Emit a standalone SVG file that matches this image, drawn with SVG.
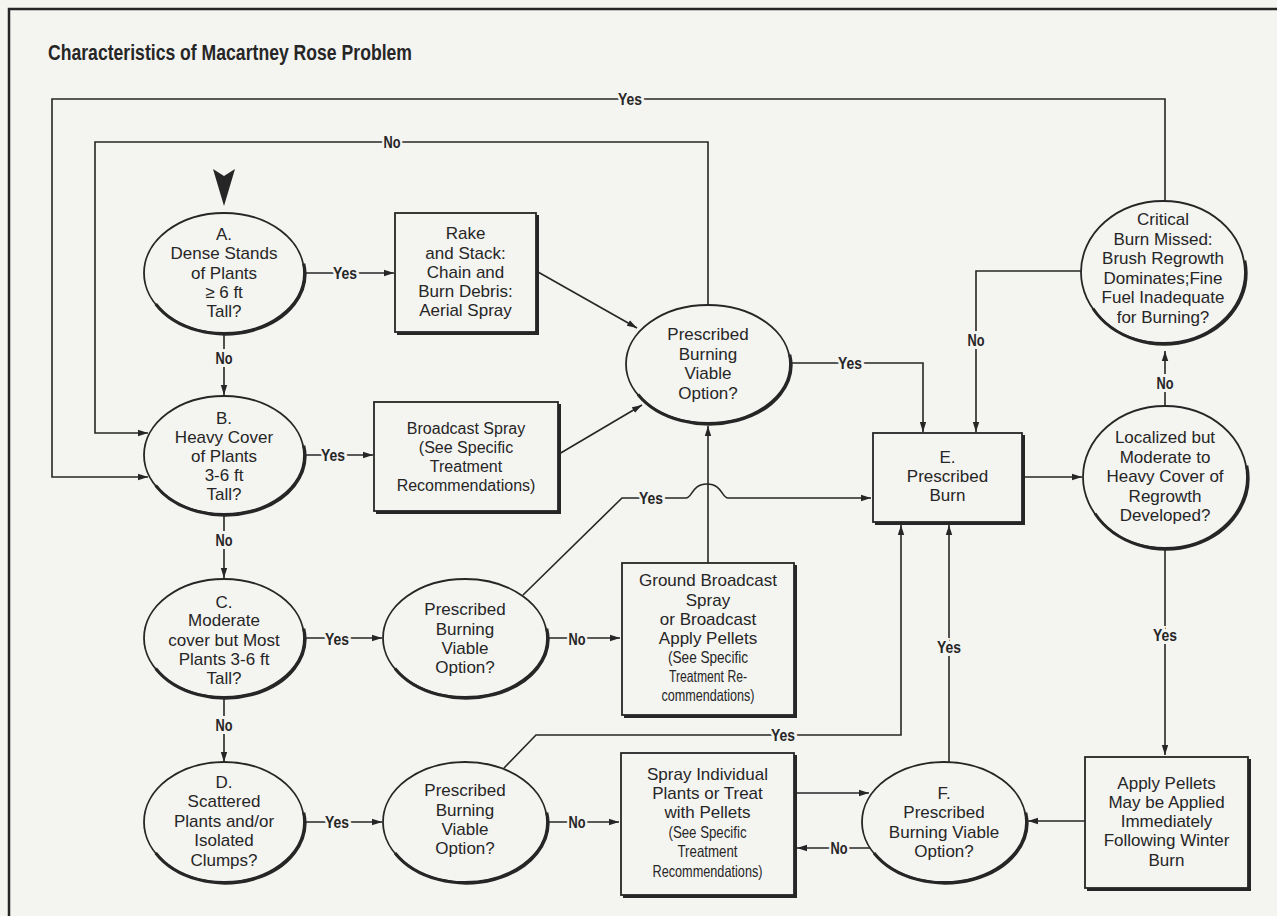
<svg xmlns="http://www.w3.org/2000/svg" width="1277" height="916" viewBox="0 0 1277 916">
<defs>
<style>
.ln{fill:none;stroke:#262626;stroke-width:1.6}
.nd{fill:#f4f4f1;stroke:#262626;stroke-width:1.8}
.sh{fill:none;stroke:#262626;stroke-width:3}
.t{font-family:"Liberation Sans",Arial,sans-serif;font-size:17px;fill:#262626;text-anchor:middle}
.s{font-size:16.5px}
.lb{font-family:"Liberation Sans",Arial,sans-serif;font-weight:bold;font-size:17px;fill:#262626;text-anchor:middle;stroke:#f4f4f1;stroke-width:6;paint-order:stroke}
</style>
<marker id="ah" markerWidth="10" markerHeight="8" refX="10" refY="4" orient="auto" markerUnits="userSpaceOnUse"><path d="M0,0.8 L10,4 L0,7.2 Z" fill="#262626"/></marker>
</defs>
<rect x="0" y="0" width="1277" height="916" fill="#f4f4f1"/>
<path d="M9,916 V9 H1277" fill="none" stroke="#262626" stroke-width="2.5"/>
<text x="48" y="60" font-family="'Liberation Sans',Arial,sans-serif" font-weight="bold" font-size="22" fill="#262626" textLength="364" lengthAdjust="spacingAndGlyphs">Characteristics of Macartney Rose Problem</text>
<path d="M213,169 L224,176 L235,169 L224,206 Z" fill="#262626"/>

<g id="connectors">
<path class="ln" marker-end="url(#ah)" d="M1165,201 V99 H52 V477 H148"/>
<path class="ln" marker-end="url(#ah)" d="M708,305 V142 H95 V433 H148"/>
<path class="ln" marker-end="url(#ah)" d="M304,273 H394"/>
<path class="ln" marker-end="url(#ah)" d="M538,272 L637,328"/>
<path class="ln" marker-end="url(#ah)" d="M224,333 V395"/>
<path class="ln" marker-end="url(#ah)" d="M304,455 H373"/>
<path class="ln" marker-end="url(#ah)" d="M559,454 L642,405"/>
<path class="ln" marker-end="url(#ah)" d="M224,514 V578"/>
<path class="ln" marker-end="url(#ah)" d="M224,697 V762"/>
<path class="ln" marker-end="url(#ah)" d="M304,638 H382"/>
<path class="ln" marker-end="url(#ah)" d="M547,638 H620"/>
<path class="ln" marker-end="url(#ah)" d="M304,822 H382"/>
<path class="ln" marker-end="url(#ah)" d="M547,822 H619"/>
<path class="ln" marker-end="url(#ah)" d="M708,563 V426"/>
<path class="ln" marker-end="url(#ah)" d="M790,363 H923 V432"/>
<path class="ln" marker-end="url(#ah)" d="M1082,271 H976 V432"/>
<path class="ln" marker-end="url(#ah)" d="M523,595 L622,498 H686 C692,498 692,484 707,484 C722,484 722,498 728,498 H871"/>
<path class="ln" marker-end="url(#ah)" d="M504,768 L536,735 H901 V525"/>
<path class="ln" marker-end="url(#ah)" d="M949,763 V525"/>
<path class="ln" marker-end="url(#ah)" d="M1022,477 H1082"/>
<path class="ln" marker-end="url(#ah)" d="M1165,406 V351"/>
<path class="ln" marker-end="url(#ah)" d="M1165,548 V755"/>
<path class="ln" marker-end="url(#ah)" d="M1085,821 H1028"/>
<path class="ln" marker-end="url(#ah)" d="M794,793 H869"/>
<path class="ln" marker-end="url(#ah)" d="M871,848 H797"/>
<g class="lb">
<text x="630" y="105" textLength="24" lengthAdjust="spacingAndGlyphs">Yes</text>
<text x="392" y="148" textLength="17" lengthAdjust="spacingAndGlyphs">No</text>
<text x="345" y="279" textLength="24" lengthAdjust="spacingAndGlyphs">Yes</text>
<text x="224" y="364" textLength="17" lengthAdjust="spacingAndGlyphs">No</text>
<text x="333" y="461" textLength="24" lengthAdjust="spacingAndGlyphs">Yes</text>
<text x="224" y="546" textLength="17" lengthAdjust="spacingAndGlyphs">No</text>
<text x="337" y="645" textLength="24" lengthAdjust="spacingAndGlyphs">Yes</text>
<text x="577" y="645" textLength="17" lengthAdjust="spacingAndGlyphs">No</text>
<text x="224" y="731" textLength="17" lengthAdjust="spacingAndGlyphs">No</text>
<text x="337" y="828" textLength="24" lengthAdjust="spacingAndGlyphs">Yes</text>
<text x="577" y="828" textLength="17" lengthAdjust="spacingAndGlyphs">No</text>
<text x="850" y="369" textLength="24" lengthAdjust="spacingAndGlyphs">Yes</text>
<text x="976" y="346" textLength="17" lengthAdjust="spacingAndGlyphs">No</text>
<text x="651" y="504" textLength="24" lengthAdjust="spacingAndGlyphs">Yes</text>
<text x="783" y="741" textLength="24" lengthAdjust="spacingAndGlyphs">Yes</text>
<text x="949" y="653" textLength="24" lengthAdjust="spacingAndGlyphs">Yes</text>
<text x="1165" y="389" textLength="17" lengthAdjust="spacingAndGlyphs">No</text>
<text x="1165" y="641" textLength="24" lengthAdjust="spacingAndGlyphs">Yes</text>
<text x="839" y="854" textLength="17" lengthAdjust="spacingAndGlyphs">No</text>
</g>
</g>

<g id="nodeA">
<ellipse class="nd" cx="224" cy="273" rx="80" ry="60"/>
<path class="sh" d="M302.8,262.6 A80,60 0 0 1 154.7,303" transform="translate(1,1)"/>
<text class="t"><tspan x="224" y="240">A.</tspan><tspan x="224" y="259">Dense Stands</tspan><tspan x="224" y="279">of Plants</tspan><tspan x="224" y="298">≥ 6 ft</tspan><tspan x="224" y="317">Tall?</tspan></text>
</g>
<g id="nodeRake">
<rect class="nd" x="395" y="213" width="141" height="119"/>
<path class="sh" d="M537.5,215 V333.5 H397"/>
<text class="t"><tspan x="465.5" y="239">Rake</tspan><tspan x="465.5" y="259">and Stack:</tspan><tspan x="465.5" y="278">Chain and</tspan><tspan x="465.5" y="297">Burn Debris:</tspan><tspan x="465.5" y="316">Aerial Spray</tspan></text>
</g>
<g id="nodePB1">
<ellipse class="nd" cx="708" cy="364" rx="82" ry="59"/>
<path class="sh" d="M788.8,353.7 A82,59 0 0 1 637,393.5" transform="translate(1,1)"/>
<text class="t"><tspan x="708" y="340">Prescribed</tspan><tspan x="708" y="360">Burning</tspan><tspan x="708" y="379">Viable</tspan><tspan x="708" y="399">Option?</tspan></text>
</g>
<g id="nodeB">
<ellipse class="nd" cx="224" cy="455" rx="80" ry="59"/>
<path class="sh" d="M302.8,444.7 A80,59 0 0 1 154.7,484.5" transform="translate(1,1)"/>
<text class="t"><tspan x="224" y="424">B.</tspan><tspan x="224" y="443">Heavy Cover</tspan><tspan x="224" y="462">of Plants</tspan><tspan x="224" y="481">3-6 ft</tspan><tspan x="224" y="500">Tall?</tspan></text>
</g>
<g id="nodeBroadcast">
<rect class="nd" x="374" y="402" width="184" height="109"/>
<path class="sh" d="M559.5,404 V512.5 H376"/>
<text class="t" style="font-size:16px"><tspan x="466" y="434">Broadcast Spray</tspan><tspan x="466" y="453">(See Specific</tspan><tspan x="466" y="472">Treatment</tspan><tspan x="466" y="491">Recommendations)</tspan></text>
</g>
<g id="nodeC">
<ellipse class="nd" cx="224" cy="638" rx="80" ry="59"/>
<path class="sh" d="M302.8,627.7 A80,59 0 0 1 154.7,667.5" transform="translate(1,1)"/>
<text class="t"><tspan x="224" y="608">C.</tspan><tspan x="224" y="626">Moderate</tspan><tspan x="224" y="646">cover but Most</tspan><tspan x="224" y="665">Plants 3-6 ft</tspan><tspan x="224" y="684">Tall?</tspan></text>
</g>
<g id="nodePB2">
<ellipse class="nd" cx="465" cy="638" rx="82" ry="59"/>
<path class="sh" d="M545.8,627.7 A82,59 0 0 1 394,667.5" transform="translate(1,1)"/>
<text class="t"><tspan x="465" y="615">Prescribed</tspan><tspan x="465" y="635">Burning</tspan><tspan x="465" y="654">Viable</tspan><tspan x="465" y="673">Option?</tspan></text>
</g>
<g id="nodeGround">
<rect class="nd" x="622" y="563" width="172" height="152"/>
<path class="sh" d="M795.5,565 V716.5 H624"/>
<text class="t"><tspan x="708" y="586">Ground Broadcast</tspan><tspan x="708" y="606">Spray</tspan><tspan x="708" y="625">or Broadcast</tspan><tspan x="708" y="644">Apply Pellets</tspan></text>
<text class="t s" x="708" y="663" textLength="80" lengthAdjust="spacingAndGlyphs">(See Specific</text>
<text class="t s" x="708" y="682" textLength="78" lengthAdjust="spacingAndGlyphs">Treatment Re-</text>
<text class="t s" x="708" y="701" textLength="93" lengthAdjust="spacingAndGlyphs">commendations)</text>
</g>
<g id="nodeD">
<ellipse class="nd" cx="224" cy="822" rx="80" ry="60"/>
<path class="sh" d="M302.8,811.6 A80,60 0 0 1 154.7,852" transform="translate(1,1)"/>
<text class="t"><tspan x="224" y="788">D.</tspan><tspan x="224" y="807">Scattered</tspan><tspan x="224" y="827">Plants and/or</tspan><tspan x="224" y="846">Isolated</tspan><tspan x="224" y="866">Clumps?</tspan></text>
</g>
<g id="nodePB3">
<ellipse class="nd" cx="465" cy="822" rx="82" ry="60"/>
<path class="sh" d="M545.8,811.6 A82,60 0 0 1 394,852" transform="translate(1,1)"/>
<text class="t"><tspan x="465" y="796">Prescribed</tspan><tspan x="465" y="816">Burning</tspan><tspan x="465" y="835">Viable</tspan><tspan x="465" y="854">Option?</tspan></text>
</g>
<g id="nodeSpray">
<rect class="nd" x="621" y="753" width="173" height="142"/>
<path class="sh" d="M795.5,755 V896.5 H623"/>
<text class="t"><tspan x="707.5" y="780">Spray Individual</tspan><tspan x="707.5" y="799">Plants or Treat</tspan><tspan x="707.5" y="818">with Pellets</tspan></text>
<text class="t s" x="707.5" y="838" textLength="78" lengthAdjust="spacingAndGlyphs">(See Specific</text>
<text class="t s" x="707.5" y="857" textLength="60" lengthAdjust="spacingAndGlyphs">Treatment</text>
<text class="t s" x="707.5" y="877" textLength="110" lengthAdjust="spacingAndGlyphs">Recommendations)</text>
</g>
<g id="nodeE">
<rect class="nd" x="873" y="433" width="149" height="89"/>
<path class="sh" d="M1023.5,435 V523.5 H875"/>
<text class="t"><tspan x="947.5" y="463">E.</tspan><tspan x="947.5" y="482">Prescribed</tspan><tspan x="947.5" y="501">Burn</tspan></text>
</g>
<g id="nodeF">
<ellipse class="nd" cx="944" cy="822" rx="82" ry="60"/>
<path class="sh" d="M1024.8,811.6 A82,60 0 0 1 873,852" transform="translate(1,1)"/>
<text class="t"><tspan x="944" y="799">F.</tspan><tspan x="944" y="818">Prescribed</tspan><tspan x="944" y="838">Burning Viable</tspan><tspan x="944" y="857">Option?</tspan></text>
</g>
<g id="nodeCritical">
<ellipse class="nd" cx="1163" cy="272" rx="82" ry="71"/>
<path class="sh" d="M1243.8,259.6 A82,71 0 0 1 1092,307.5" transform="translate(1,1)"/>
<text class="t"><tspan x="1163" y="225">Critical</tspan><tspan x="1163" y="245">Burn Missed:</tspan><tspan x="1163" y="264">Brush Regrowth</tspan><tspan x="1163" y="284">Dominates;Fine</tspan><tspan x="1163" y="303">Fuel Inadequate</tspan><tspan x="1163" y="323">for Burning?</tspan></text>
</g>
<g id="nodeLocalized">
<ellipse class="nd" cx="1165" cy="477" rx="82" ry="71"/>
<path class="sh" d="M1245.8,464.6 A82,71 0 0 1 1094,512.5" transform="translate(1,1)"/>
<text class="t"><tspan x="1165" y="443">Localized but</tspan><tspan x="1165" y="463">Moderate to</tspan><tspan x="1165" y="482">Heavy Cover of</tspan><tspan x="1165" y="502">Regrowth</tspan><tspan x="1165" y="521">Developed?</tspan></text>
</g>
<g id="nodeApply">
<rect class="nd" x="1085" y="757" width="163" height="131"/>
<path class="sh" d="M1249.5,759 V889.5 H1087"/>
<text class="t"><tspan x="1166.5" y="789">Apply Pellets</tspan><tspan x="1166.5" y="808">May be Applied</tspan><tspan x="1166.5" y="827">Immediately</tspan><tspan x="1166.5" y="846">Following Winter</tspan><tspan x="1166.5" y="866">Burn</tspan></text>
</g>
</svg>
